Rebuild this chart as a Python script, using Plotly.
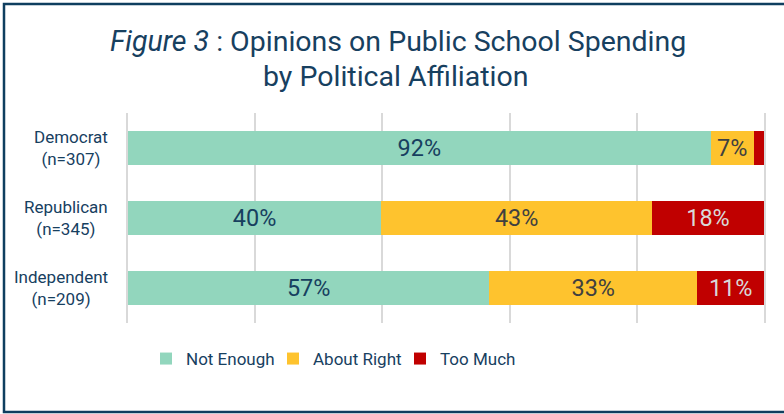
import plotly.graph_objects as go

categories = ["Democrat", "Republican", "Independent"]
sample_sizes = ["(n=307)", "(n=345)", "(n=209)"]
not_enough = [91.6, 39.8, 56.8]
about_right = [6.8, 42.6, 32.7]
too_much = [1.6, 17.6, 10.5]
not_enough_lbl = ["92%", "40%", "57%"]
about_right_lbl = ["7%", "43%", "33%"]
too_much_lbl = ["", "18%", "11%"]
x_ticks = [0, 20, 40, 60, 80, 100]

FONT = "Roboto, Liberation Sans Narrow, sans-serif"
NAVY = "#17405f"

fig = go.Figure()
fig.add_trace(go.Bar(y=categories, x=not_enough, orientation="h", name="Not Enough",
                     marker=dict(color="#92d6bd", line=dict(width=0)),
                     text=not_enough_lbl, textposition="inside", insidetextanchor="middle",
                     textfont=dict(color=NAVY, size=28, family=FONT)))
fig.add_trace(go.Bar(y=categories, x=about_right, orientation="h", name="About Right",
                     marker=dict(color="#fec32e", line=dict(width=0)),
                     text=about_right_lbl, textposition="inside", insidetextanchor="middle",
                     textfont=dict(color="#404040", size=28, family=FONT)))
fig.add_trace(go.Bar(y=categories, x=too_much, orientation="h", name="Too Much",
                     marker=dict(color="#c00000", line=dict(width=0)),
                     text=too_much_lbl, textposition="inside", insidetextanchor="middle",
                     textfont=dict(color="#d9d9d9", size=28, family=FONT)))

L, R, T, B = 128, 20, 113, 91
W, H = 784, 414
pw, ph = W - L - R, H - T - B


def px_x(x):
    return (x - L) / pw


def px_y(y):
    return (H - B - y) / ph


annotations = [
    dict(text="<i>Figure 3</i> : Opinions on Public School Spending",
         xref="paper", yref="paper", x=px_x(398), y=px_y(41),
         xanchor="center", yanchor="middle", showarrow=False,
         font=dict(size=28.5, color=NAVY, family=FONT)),
    dict(text="by Political Affiliation",
         xref="paper", yref="paper", x=px_x(396), y=px_y(77),
         xanchor="center", yanchor="middle", showarrow=False,
         font=dict(size=28.5, color=NAVY, family=FONT)),
]
for cat, n in zip(categories, sample_sizes):
    annotations.append(dict(text=f"{cat}<br>{n}", xref="paper", yref="y",
                            x=px_x(110), y=cat, xanchor="right", yanchor="middle",
                            align="center", showarrow=False,
                            font=dict(size=17, color=NAVY, family=FONT)))

fig.update_layout(
    barmode="stack",
    bargap=0.52,
    width=W, height=H,
    margin=dict(l=L, r=R, t=T, b=B),
    paper_bgcolor="white", plot_bgcolor="white",
    font=dict(family=FONT, color=NAVY),
    uniformtext=dict(minsize=8, mode="show"),
    xaxis=dict(range=[0, 100], tickvals=x_ticks, showticklabels=False,
               showgrid=True, gridcolor="#d9d9d9", gridwidth=1.5,
               zeroline=False, ticks="", fixedrange=True),
    yaxis=dict(autorange="reversed", showgrid=False, zeroline=False,
               showticklabels=False, ticks="",
               showline=True, mirror=True, linecolor="#d9d9d9", linewidth=1.5),
    legend=dict(orientation="h", x=px_x(146), xanchor="left", y=px_y(359), yanchor="middle",
                font=dict(size=17, color=NAVY, family=FONT),
                entrywidth=82, entrywidthmode="pixels",
                traceorder="normal"),
    showlegend=True,
    annotations=annotations,
    shapes=[dict(type="rect", xref="paper", yref="paper",
                 x0=px_x(4), x1=px_x(790),
                 y0=px_y(412), y1=px_y(4),
                 line=dict(color="#0f3e5f", width=2.5), fillcolor="rgba(0,0,0,0)",
                 layer="above")],
)

fig.write_html("out.html")
